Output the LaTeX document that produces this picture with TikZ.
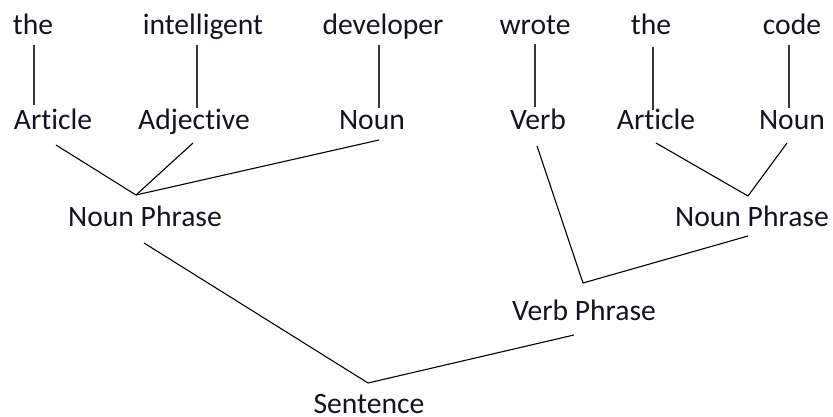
\documentclass[tikz,border=0pt]{standalone}
\usepackage{fontspec}
\setmainfont{Carlito}[Ligatures={NoCommon}]
\usetikzlibrary{calc}
\definecolor{ink}{HTML}{14141E}
\definecolor{stem}{HTML}{383838}
\begin{document}
\begin{tikzpicture}[x=1pt,y=-1pt,
  lbl/.style={anchor=base,inner sep=0pt,text=ink,font=\fontsize{29.6}{32}\selectfont},
  stemline/.style={draw=stem,line width=1.7pt},
  branch/.style={draw=black,line width=1.1pt,line join=miter}]
\useasboundingbox (0,0) rectangle (833,417);

% words
\node[lbl] (w1) at (33,35) {the};
\node[lbl] (w2) at (203,35) {intelligent};
\node[lbl] (w3) at (383,35) {developer};
\node[lbl] (w4) at (535,35) {wrote};
\node[lbl] (w5) at (651,35) {the};
\node[lbl] (w6) at (792,35) {code};

% word categories
\node[lbl] (c1) at (53,130) {Article};
\node[lbl] (c2) at (194,130) {Adjective};
\node[lbl] (c3) at (372,130) {Noun};
\node[lbl] (c4) at (538,130) {Verb};
\node[lbl] (c5) at (656,130) {Article};
\node[lbl] (c6) at (792,130) {Noun};

% phrases
\node[lbl] (np1) at (145,226) {Noun Phrase};
\node[lbl] (np2) at (752,226) {Noun Phrase};
\node[lbl] (vp)  at (584,320) {Verb Phrase};
\node[lbl] (s)   at (369,413) {Sentence};

% junction points
\coordinate (j1) at (136,195);
\coordinate (j2) at (748,196);
\coordinate (j3) at (583,283);
\coordinate (j4) at (368,383);

% word to category
\draw[stemline] ($(w1.base)+(1,10)$) -- ($(c1.base)+(-19,-25)$);
\draw[stemline] ($(w2.base)+(-6,10)$) -- ($(c2.base)+(3,-22)$);
\draw[stemline] ($(w3.base)+(-4,10)$) -- ($(c3.base)+(7,-22)$);
\draw[stemline] ($(w4.base)+(0,9)$) -- ($(c4.base)+(-3,-23)$);
\draw[stemline] ($(w5.base)+(2,12)$) -- ($(c5.base)+(-3,-20)$);
\draw[stemline] ($(w6.base)+(-3,10)$) -- ($(c6.base)+(-3,-22)$);

% left noun phrase
\draw[branch] ($(c1.base)+(3,15)$) -- (j1);
\draw[branch] ($(c2.base)+(-1,13)$) -- (j1);
\draw[branch] ($(c3.base)+(7,10)$) -- (j1);

% right noun phrase
\draw[branch] ($(c5.base)+(0,13)$) -- (j2);
\draw[branch] ($(c6.base)+(-5,13)$) -- (j2);

% verb phrase
\draw[branch] ($(c4.base)+(-1,16)$) -- (j3);
\draw[branch] ($(np2.base)+(-4,10)$) -- (j3);

% sentence
\draw[branch] ($(np1.base)+(-1,17)$) -- (j4);
\draw[branch] ($(vp.base)+(-10,15)$) -- (j4);
\end{tikzpicture}
\end{document}
